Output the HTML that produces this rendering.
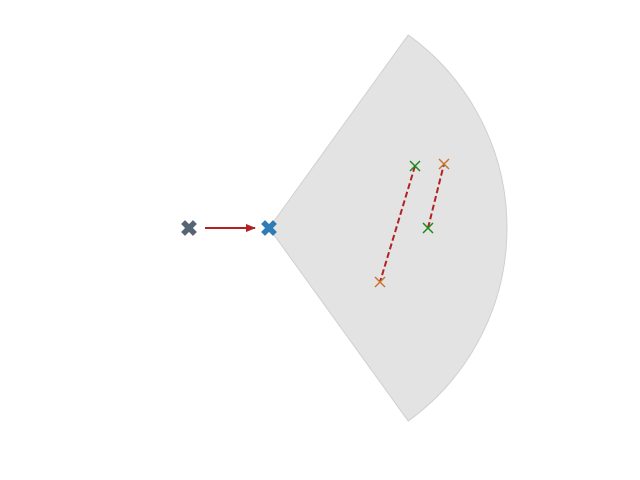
<!DOCTYPE html>
<html><head><meta charset="utf-8"><style>
html,body{margin:0;padding:0;background:#fff;width:640px;height:480px;overflow:hidden}
</style></head><body>
<svg id="chart" width="640" height="480" viewBox="0 0 640 480" xmlns="http://www.w3.org/2000/svg">
<defs><marker id="ah" markerWidth="10" markerHeight="8" refX="9" refY="4" orient="auto" markerUnits="userSpaceOnUse"><path d="M0,0 L10,4 L0,8 Z" fill="#b22222"/></marker></defs>
<g id="g"></g>
</svg>
<script>
const origin = [0, 0];
const prevPos = [-80, 0];
const sectorRadius = 238;
const sectorHalfAngle = 54.2;
const greenPts = [[146, 62], [159, 0]];
const orangePts = [[111, -54], [175, 64]];
const pairs = [[0, 0], [1, 1]];
const sx = x => 269 + x;
const sy = y => 228 - y;
const NS = 'http://www.w3.org/2000/svg';
const g = document.getElementById('g');
function mk(tag, attrs){const e=document.createElementNS(NS,tag);for(const k in attrs)e.setAttribute(k,attrs[k]);g.appendChild(e);return e;}
const a = sectorHalfAngle*Math.PI/180;
const x1 = sx(origin[0]+sectorRadius*Math.cos(a)), y1 = sy(origin[1]+sectorRadius*Math.sin(a));
const x2 = sx(origin[0]+sectorRadius*Math.cos(a)), y2 = sy(origin[1]-sectorRadius*Math.sin(a));
const sec = mk('path',{d:`M${sx(origin[0])},${sy(origin[1])} L${x1},${y1} A${sectorRadius},${sectorRadius} 0 0 1 ${x2},${y2} Z`,fill:'#e3e3e3',stroke:'#d0d0d0','stroke-width':1});


const arr = mk('line',{x1:sx(prevPos[0])+16,y1:sy(prevPos[1]),x2:sx(origin[0])-14,y2:sy(origin[1]),stroke:'#b22222','stroke-width':2,'marker-end':'url(#ah)'});


pairs.forEach(p=>{
  const gp=greenPts[p[0]], op=orangePts[p[1]];
  const l=mk('line',{x1:sx(gp[0]),y1:sy(gp[1]),x2:sx(op[0]),y2:sy(op[1]),stroke:'#b22222','stroke-width':2,'stroke-dasharray':'6,3'});
  
  
});
function bigX(p,color,name){
  const cx=sx(p[0]),cy=sy(p[1]);
  const e=mk('path',{d:`M${cx-4},${cy-4}L${cx+4},${cy+4}M${cx-4},${cy+4}L${cx+4},${cy-4}`,stroke:color,'stroke-width':5.5,'stroke-linecap':'square'});
  
  
}
function smallX(p,color,name){
  const cx=sx(p[0]),cy=sy(p[1]);
  const e=mk('path',{d:`M${cx-5},${cy-5}L${cx+5},${cy+5}M${cx-5},${cy+5}L${cx+5},${cy-5}`,stroke:color,'stroke-width':1.5});
  
  
}
bigX(prevPos,'#566573','previous-position');
bigX(origin,'#2e7bb5','current-position');
greenPts.forEach(p=>smallX(p,'#1a8a1a','green-point'));
orangePts.forEach(p=>smallX(p,'#c87533','orange-point'));
</script>
</body></html>
